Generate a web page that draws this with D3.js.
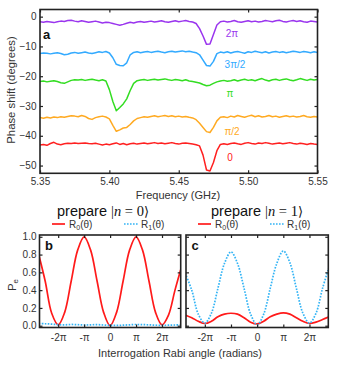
<!DOCTYPE html>
<html><head><meta charset="utf-8">
<script src="https://cdn.jsdelivr.net/npm/d3@7"></script>
<style>
body{margin:0;background:#fff}
svg{display:block;font-family:"Liberation Sans",Arial,sans-serif}
</style>
</head><body>
<svg width="339" height="366"></svg>
<script>
// ---------- DATA ----------
const freqGHz = [
5.3500,5.3525,5.3550,5.3575,5.3600,5.3625,5.3650,5.3675,5.3700,5.3725,
5.3750,5.3775,5.3800,5.3825,5.3850,5.3875,5.3900,5.3925,5.3950,5.3975,
5.4000,5.4025,5.4050,5.4075,5.4100,5.4125,5.4150,5.4175,5.4200,5.4225,
5.4250,5.4275,5.4300,5.4325,5.4350,5.4375,5.4400,5.4425,5.4450,5.4475,
5.4500,5.4525,5.4550,5.4575,5.4600,5.4625,5.4650,5.4675,5.4700,5.4725,
5.4750,5.4775,5.4800,5.4825,5.4850,5.4875,5.4900,5.4925,5.4950,5.4975,
5.5000,5.5025,5.5050,5.5075,5.5100,5.5125,5.5150,5.5175,5.5200,5.5225,
5.5250,5.5275,5.5300,5.5325,5.5350,5.5375,5.5400,5.5425,5.5450,5.5475,
5.5500];

const phase2pi = [
-1.7,-1.9,-1.6,-1.8,-2.0,-1.7,-1.5,-1.6,-1.3,-1.2,
-1.5,-1.7,-1.4,-1.6,-1.9,-1.7,-1.5,-1.8,-2.1,-1.9,
-2.0,-2.3,-2.6,-2.9,-2.6,-2.2,-1.9,-2.1,-1.8,-1.6,
-1.9,-1.7,-1.5,-1.8,-1.6,-1.4,-1.7,-1.9,-1.6,-1.4,
-1.7,-1.5,-1.3,-1.6,-1.8,-2.3,-4.0,-6.5,-9.3,-9.2,
-6.0,-2.8,-1.7,-1.5,-1.8,-1.6,-1.3,-1.7,-1.9,-1.6,
-1.4,-1.7,-1.5,-1.8,-1.6,-1.3,-1.5,-1.7,-1.4,-1.2,
-1.6,-1.8,-1.5,-1.3,-1.6,-1.4,-1.7,-1.9,-1.5,-1.6,
-1.8];
const phase3pi2 = [
-12.4,-12.2,-12.3,-12.5,-12.3,-12.1,-12.4,-12.8,-12.6,-12.2,
-12.0,-12.3,-12.1,-11.9,-12.2,-12.4,-12.1,-11.8,-12.0,-11.7,
-12.2,-13.8,-16.0,-16.4,-16.5,-15.5,-12.8,-12.0,-11.8,-12.1,
-11.9,-11.7,-12.0,-11.8,-11.6,-11.9,-12.1,-11.8,-11.6,-11.9,
-11.7,-11.5,-11.8,-11.6,-11.9,-12.1,-12.8,-14.6,-16.4,-16.6,
-15.0,-12.4,-11.9,-12.1,-11.8,-12.2,-11.9,-11.7,-12.0,-12.3,
-11.8,-12.0,-11.6,-11.9,-12.1,-11.8,-12.2,-11.9,-11.7,-12.0,
-11.8,-12.1,-11.9,-11.6,-11.8,-12.0,-11.7,-11.9,-12.1,-11.8,
-12.0];
const phasePi = [
-21.8,-21.6,-21.9,-21.7,-21.5,-21.8,-22.2,-22.4,-21.9,-21.4,
-21.2,-21.3,-21.1,-21.4,-21.2,-21.0,-21.3,-21.5,-21.2,-21.6,
-24.5,-28.5,-31.6,-30.5,-29.3,-27.6,-24.8,-22.4,-21.5,-21.3,
-21.1,-21.4,-21.2,-21.0,-21.3,-21.1,-20.9,-21.2,-21.4,-21.1,
-21.3,-21.5,-21.2,-21.6,-21.8,-22.0,-22.3,-22.8,-23.2,-23.0,
-22.4,-21.9,-21.6,-21.4,-21.7,-21.5,-21.2,-21.6,-21.3,-21.0,
-21.4,-21.2,-21.5,-21.1,-20.8,-21.3,-21.6,-21.2,-21.0,-21.4,
-21.1,-20.9,-21.3,-21.5,-21.2,-20.8,-21.1,-21.4,-21.0,-21.3,
-21.1];
const phasePi2 = [
-33.9,-34.1,-33.8,-34.0,-33.7,-33.9,-33.6,-33.8,-33.5,-33.3,
-33.4,-33.6,-33.2,-33.5,-34.2,-34.5,-33.9,-33.6,-33.4,-33.7,
-34.3,-36.5,-38.5,-38.0,-37.4,-37.2,-36.2,-35.0,-34.2,-33.9,
-33.6,-33.8,-33.5,-33.3,-33.6,-33.4,-33.2,-33.5,-33.3,-33.6,
-33.4,-33.7,-33.5,-33.8,-34.0,-34.6,-35.8,-37.2,-38.6,-38.9,
-37.2,-35.0,-33.8,-33.6,-33.9,-33.4,-33.7,-33.2,-33.5,-33.8,
-33.4,-33.1,-33.6,-33.3,-33.7,-33.5,-33.2,-33.6,-33.4,-33.8,
-33.5,-33.3,-33.6,-33.4,-33.7,-33.5,-33.2,-33.6,-33.8,-33.5,
-33.7];
const phase0 = [
-43.1,-42.9,-43.2,-42.6,-42.2,-42.8,-43.0,-42.7,-42.5,-42.6,
-42.4,-42.6,-42.5,-42.4,-42.6,-42.7,-42.5,-42.8,-43.1,-42.8,
-43.0,-42.7,-42.4,-42.9,-42.6,-43.0,-42.7,-42.5,-42.8,-42.6,
-42.4,-42.7,-42.5,-42.3,-42.6,-42.4,-42.7,-42.5,-42.3,-42.6,
-42.8,-42.5,-42.4,-42.6,-42.8,-43.0,-43.4,-46.5,-51.5,-51.8,
-49.0,-45.0,-42.9,-42.7,-42.9,-42.6,-42.4,-42.7,-42.9,-42.5,
-42.3,-42.6,-42.8,-42.4,-42.6,-42.3,-42.5,-42.8,-42.6,-42.4,
-42.7,-42.5,-42.3,-42.6,-42.8,-42.5,-42.7,-42.9,-42.6,-42.8,
-42.9];

const traceNames  = ["2π","3π/2","π","π/2","0"];
const traceColors = ["#9a35ee","#33aaff","#33dd22","#ffaa22","#ff2020"];

const freqTicks  = [5.35,5.40,5.45,5.50,5.55];
const phaseTicks = [0,-10,-20,-30,-40,-50];

// Rabi angle in units of pi
const rabiAngle = [-2.75,-2.5,-2.25,-2,-1.75,-1.5,-1.25,-1,-0.75,-0.5,-0.25,0,
                    0.25,0.5,0.75,1,1.25,1.5,1.75,2,2.25,2.5,2.75];
const bR0 = [0.80,0.50,0.14,0.01,0.15,0.50,0.85,1.00,0.85,0.50,0.15,0.00,
             0.15,0.50,0.85,1.00,0.85,0.50,0.15,0.01,0.12,0.40,0.66];
const bR1 = [0.025,0.022,0.018,0.012,0.010,0.014,0.012,0.008,0.010,0.012,0.008,0.004,
             0.003,0.006,0.010,0.014,0.012,0.010,0.006,0.004,0.006,0.008,0.010];
const cR0 = [0.12,0.09,0.05,0.025,0.05,0.10,0.13,0.14,0.13,0.09,0.04,0.02,
             0.05,0.10,0.13,0.145,0.13,0.09,0.05,0.025,0.04,0.07,0.10];
const cR1 = [0.59,0.40,0.13,0.03,0.14,0.42,0.70,0.83,0.70,0.42,0.13,0.01,
             0.13,0.42,0.70,0.84,0.71,0.42,0.14,0.03,0.14,0.42,0.66];

const rabiTicks = [-2,-1,0,1,2];
const rabiTickLabels = ["-2π","-π","0","π","2π"];
const peTicks = [0,0.2,0.4,0.6,0.8,1.0];

// ---------- DRAW ----------
const svg = d3.select("svg");
const TXT = "#333";
const FRAME = "#222";

function frame(g, x0, y0, x1, y1){
  g.append("rect").attr("x",x0).attr("y",y0).attr("width",x1-x0).attr("height",y1-y0)
   .attr("fill","none").attr("stroke",FRAME).attr("stroke-width",1.6);
}
function styleAxis(sel, fs){
  sel.select(".domain").remove();
  sel.selectAll(".tick line").attr("stroke",FRAME).attr("stroke-width",1.2);
  sel.selectAll(".tick text").attr("fill",TXT).attr("font-size",fs)
     .attr("font-family","Liberation Sans, Arial, sans-serif");
}

// Panel a
const A = {l:40, r:317.5, t:9.5, b:173.3};
const xa = d3.scaleLinear().domain([5.35,5.55]).range([A.l,A.r]);
const ya = d3.scaleLinear().domain([-52.6,2.4]).range([A.b,A.t]);
svg.append("clipPath").attr("id","clipA").append("rect")
   .attr("x",A.l).attr("y",A.t).attr("width",A.r-A.l).attr("height",A.b-A.t);

const series = [phase2pi,phase3pi2,phasePi,phasePi2,phase0];
const lineA = d3.line().x((d,i)=>xa(freqGHz[i])).y(d=>ya(d));
const gA = svg.append("g").attr("clip-path","url(#clipA)");
series.forEach((s,k)=>{
  gA.append("path").attr("d",lineA(s)).attr("fill","none")
    .attr("stroke",traceColors[k]).attr("stroke-width",1.5).attr("stroke-linejoin","round");
});

svg.append("g").attr("transform",`translate(0,${A.b})`)
  .call(d3.axisBottom(xa).tickValues(freqTicks).tickFormat(d3.format(".2f")).tickSizeInner(-3).tickSizeOuter(0).tickPadding(5))
  .call(s=>styleAxis(s,10));
svg.append("g").attr("transform",`translate(0,${A.t})`)
  .call(d3.axisTop(xa).tickValues(freqTicks).tickFormat("").tickSizeInner(-3).tickSizeOuter(0))
  .call(s=>styleAxis(s,10));
svg.append("g").attr("transform",`translate(${A.l},0)`)
  .call(d3.axisLeft(ya).tickValues(phaseTicks).tickFormat(d3.format("d")).tickSizeInner(-3).tickSizeOuter(0).tickPadding(3.5))
  .call(s=>styleAxis(s,10));
svg.append("g").attr("transform",`translate(${A.r},0)`)
  .call(d3.axisRight(ya).tickValues(phaseTicks).tickFormat("").tickSizeInner(-3).tickSizeOuter(0))
  .call(s=>styleAxis(s,10));
frame(svg, A.l, A.t, A.r, A.b);

// trace labels
const labelPos = [[232,33],[235,64],[230,93],[232,131],[230,157]];
traceNames.forEach((t,k)=>{
  svg.append("text").attr("x",labelPos[k][0]).attr("y",labelPos[k][1]).attr("dy","0.35em")
    .attr("text-anchor","middle").attr("font-size",10).attr("fill",traceColors[k]).text(t);
});
svg.append("text").attr("x",43).attr("y",38.5).attr("font-size",13).attr("font-weight","bold")
   .attr("fill","#111").text("a");
svg.append("text").attr("transform","translate(11,90) rotate(-90)").attr("dy","0.35em")
   .attr("text-anchor","middle").attr("font-size",11.3).attr("fill",TXT).text("Phase shift (degrees)");
svg.append("text").attr("x",178).attr("y",199).attr("text-anchor","middle")
   .attr("font-size",11).attr("fill",TXT).text("Frequency (GHz)");

// Panels b and c
const PT = 235, PB = 327.5;
const yp = d3.scaleLinear().domain([-0.02,1.02]).range([PB,PT]);
const panels = [
  {id:"b", l:39.5, r:180.7, r0:bR0, r1:bR1, labels:true, title:"0",
   titleX:103, leg:52},
  {id:"c", l:186, r:328.3, r0:cR0, r1:cR1, labels:false, title:"1",
   titleX:257, leg:198}
];
panels.forEach(p=>{
  const xs = d3.scaleLinear().domain([-2.72,2.72]).range([p.l,p.r]);
  svg.append("clipPath").attr("id","clip"+p.id).append("rect")
     .attr("x",p.l).attr("y",PT).attr("width",p.r-p.l).attr("height",PB-PT);
  const g = svg.append("g").attr("clip-path",`url(#clip${p.id})`);
  const ln = d3.line().x((d,i)=>xs(rabiAngle[i])).y(d=>yp(d)).curve(d3.curveCatmullRom.alpha(0.5));
  g.append("path").attr("d",ln(p.r0)).attr("fill","none").attr("stroke","#ff1a1a").attr("stroke-width",1.7);
  g.append("path").attr("d",ln(p.r1)).attr("fill","none").attr("stroke","#33b4f5")
    .attr("stroke-width",1.7).attr("stroke-dasharray","1.6,1.4");

  svg.append("g").attr("transform",`translate(0,${PB})`)
    .call(d3.axisBottom(xs).tickValues(rabiTicks).tickFormat((d,i)=>rabiTickLabels[i]).tickSizeInner(-3).tickSizeOuter(0).tickPadding(6))
    .call(s=>styleAxis(s,10));
  svg.append("g").attr("transform",`translate(0,${PT})`)
    .call(d3.axisTop(xs).tickValues(rabiTicks).tickFormat("").tickSizeInner(-3).tickSizeOuter(0))
    .call(s=>styleAxis(s,10));
  svg.append("g").attr("transform",`translate(${p.l},0)`)
    .call(d3.axisLeft(yp).tickValues(peTicks).tickFormat(p.labels?d3.format(".1f"):"").tickSizeInner(-3).tickSizeOuter(0).tickPadding(3))
    .call(s=>styleAxis(s,10));
  svg.append("g").attr("transform",`translate(${p.r},0)`)
    .call(d3.axisRight(yp).tickValues(peTicks).tickFormat("").tickSizeInner(-3).tickSizeOuter(0))
    .call(s=>styleAxis(s,10));
  frame(svg, p.l, PT, p.r, PB);

  svg.append("text").attr("x",p.l+(p.id==="b"?5.5:5.5)).attr("y",249.5).attr("font-size",13)
     .attr("font-weight","bold").attr("fill","#111").text(p.id);

  // title
  const t = svg.append("text").attr("x",p.titleX).attr("y",215.5).attr("text-anchor","middle")
     .attr("font-size",14.5).attr("fill","#111");
  t.append("tspan").text("prepare ");
  t.append("tspan").attr("font-family","Liberation Serif, serif").text("|");
  t.append("tspan").attr("font-family","Liberation Serif, serif").attr("font-style","italic").text("n");
  t.append("tspan").attr("font-family","Liberation Serif, serif").text(" = "+p.title);
  t.append("tspan").attr("font-family","DejaVu Sans, sans-serif").attr("font-size",13).text("⟩");

  // legend
  const ly = 224;
  svg.append("line").attr("x1",p.leg).attr("x2",p.leg+13).attr("y1",ly).attr("y2",ly)
     .attr("stroke","#ff1a1a").attr("stroke-width",1.7);
  const t0 = svg.append("text").attr("x",p.leg+17).attr("y",ly+3.5).attr("font-size",10).attr("fill",TXT);
  t0.append("tspan").text("R");
  t0.append("tspan").attr("font-size",7).attr("dy",2).text("0");
  t0.append("tspan").attr("dy",-2).text("(θ)");
  svg.append("line").attr("x1",p.leg+72).attr("x2",p.leg+87).attr("y1",ly).attr("y2",ly)
     .attr("stroke","#33b4f5").attr("stroke-width",1.7).attr("stroke-dasharray","1.6,1.4");
  const t1 = svg.append("text").attr("x",p.leg+89).attr("y",ly+3.5).attr("font-size",10).attr("fill",TXT);
  t1.append("tspan").text("R");
  t1.append("tspan").attr("font-size",7).attr("dy",2).text("1");
  t1.append("tspan").attr("dy",-2).text("(θ)");
});

const pe = svg.append("text").attr("transform","translate(11.5,285) rotate(-90)").attr("dy","0.35em")
   .attr("text-anchor","middle").attr("font-size",11.5).attr("fill",TXT);
pe.append("tspan").text("P");
pe.append("tspan").attr("font-size",8).attr("dy",2).text("e");

svg.append("text").attr("x",180).attr("y",357).attr("text-anchor","middle")
   .attr("font-size",11).attr("fill",TXT).text("Interrogation Rabi angle (radians)");
</script>
</body></html>
